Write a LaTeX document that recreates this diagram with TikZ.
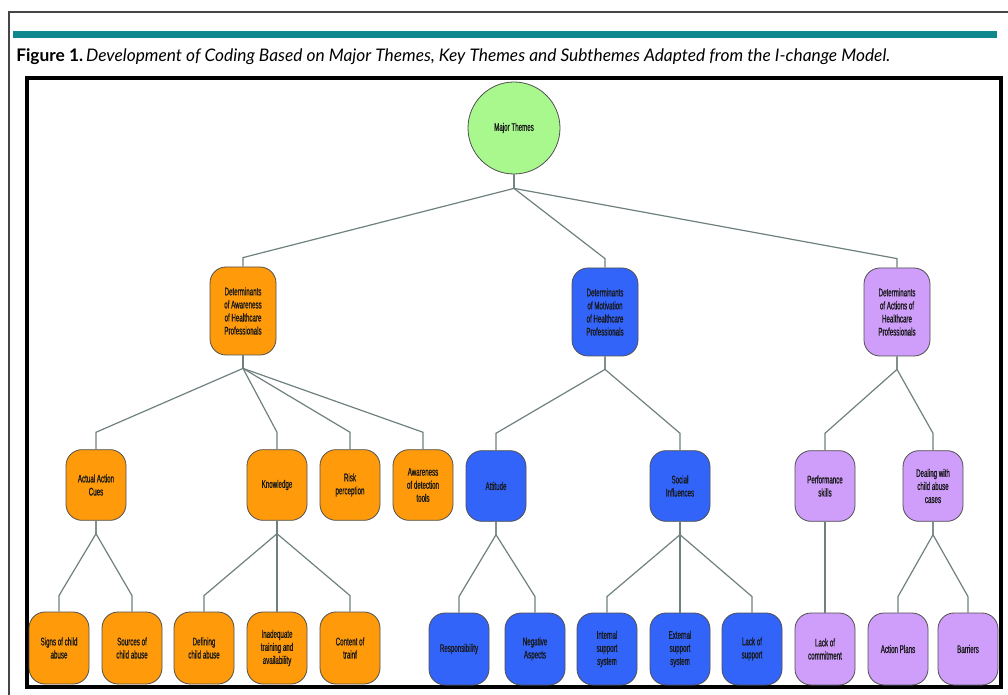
\documentclass[tikz,border=0pt]{standalone}
\usepackage{fontspec}
\setmainfont{Liberation Sans}
\newfontfamily\condfont[FakeStretch=0.56,FakeBold=0.8]{Liberation Sans}
\newfontfamily\capfont{Lato}
\usetikzlibrary{calc}
\definecolor{orng}{RGB}{255,155,10}
\definecolor{blu}{RGB}{50,100,250}
\definecolor{purp}{RGB}{206,158,250}
\definecolor{grn}{RGB}{168,248,142}
\definecolor{boxline}{RGB}{80,80,80}
\definecolor{connc}{RGB}{112,128,128}
\definecolor{teal}{RGB}{14,136,140}
\definecolor{frameg}{RGB}{70,70,70}
\newcommand\treelink[4]{\draw[conn] (#1.south) -- ++(0,#2) -- ($(#3.north)+(0,-#4)$) -- (#3.north);}
\begin{document}
\begin{tikzpicture}[x=0.75pt,y=-0.75pt,
  box/.style={draw=boxline, line width=0.6pt, rounded corners=12pt, align=center,
    font=\condfont\fontsize{8.3}{9.8}\selectfont, text=black!90, inner sep=1pt},
  lone/.style={box, minimum width=49.5pt, minimum height=66pt},
  ltwo/.style={box, minimum width=45pt, minimum height=53pt},
  lthree/.style={box, minimum width=45pt, minimum height=54pt},
  conn/.style={draw=connc, line width=0.9pt}]
\useasboundingbox (0,0) rectangle (1008,695);
\fill[white] (0,0) rectangle (1008,695);
% page frame
\draw[frameg, line width=1.1pt] (9,695) -- (9,12) -- (1008,12);
\fill[teal] (13,31) rectangle (997,38.5);
\node[anchor=base west, inner sep=0pt, font=\capfont\fontsize{13}{15}\selectfont] (cap) at (16,62)
  {\textbf{Figure 1.}\,\textit{Development of Coding Based on Major Themes, Key Themes and Subthemes Adapted from the I-change Model.}};
\draw[black, line width=3pt] (27,78) rectangle (1001,687);
% root
\node[draw=boxline, line width=0.6pt, circle, fill=grn, minimum size=69pt, inner sep=0pt,
  font=\condfont\fontsize{8.3}{9.8}\selectfont, text=black!90] (root) at (514,128) {Major Themes};
% level 1
\node[lone, fill=orng] (aw) at (243,311) {Determinants\\of Awareness\\of Healthcare\\Professionals};
\node[lone, fill=blu] (mo) at (605,312) {Determinants\\of Motivation\\of Healthcare\\Professionals};
\node[lone, fill=purp] (ac) at (897,312) {Determinants\\of Actions of\\Healthcare\\Professionals};
% level 2
\node[ltwo, fill=orng] (cues) at (96,485) {Actual Action\\Cues};
\node[ltwo, fill=orng] (know) at (277,485) {Knowledge};
\node[ltwo, fill=orng] (risk) at (350,485) {Risk\\perception};
\node[ltwo, fill=orng] (tools) at (423,485) {Awareness\\of detection\\tools};
\node[ltwo, fill=blu] (att) at (496,486) {Attitude};
\node[ltwo, fill=blu] (soc) at (680,486) {Social\\Influences};
\node[ltwo, fill=purp] (perf) at (825,486) {Performance\\skills};
\node[ltwo, fill=purp] (deal) at (933,486) {Dealing with\\child abuse\\cases};
% level 3
\node[lthree, fill=orng] (signs) at (59,648) {Signs of child\\abuse};
\node[lthree, fill=orng] (sources) at (132,648) {Sources of\\child abuse};
\node[lthree, fill=orng] (defin) at (204,648) {Defining\\child abuse};
\node[lthree, fill=orng] (inad) at (277,648) {Inadequate\\training and\\availability};
\node[lthree, fill=orng] (content) at (350,648) {Content of\\trainf};
\node[lthree, fill=blu] (resp) at (459,649) {Responsibility};
\node[lthree, fill=blu] (neg) at (535,649) {Negative\\Aspects};
\node[lthree, fill=blu] (inter) at (607,649) {Internal\\support\\system};
\node[lthree, fill=blu] (exter) at (680,649) {External\\support\\system};
\node[lthree, fill=blu] (lack) at (752,649) {Lack of\\support};
\node[lthree, fill=purp] (commit) at (825,649) {Lack of\\commitment};
\node[lthree, fill=purp] (plans) at (898,649) {Action Plans};
\node[lthree, fill=purp] (barr) at (968,649) {Barriers};
% connectors
\treelink{root}{14}{aw}{9}
\treelink{root}{14}{mo}{9}
\treelink{root}{14}{ac}{9}
\treelink{aw}{13}{cues}{17}
\treelink{aw}{13}{know}{17}
\treelink{aw}{13}{risk}{17}
\treelink{aw}{13}{tools}{17}
\treelink{mo}{13}{att}{17}
\treelink{mo}{13}{soc}{17}
\treelink{ac}{13}{perf}{17}
\treelink{ac}{13}{deal}{17}
\treelink{cues}{13}{signs}{16}
\treelink{cues}{13}{sources}{16}
\treelink{know}{13}{defin}{16}
\treelink{know}{13}{inad}{16}
\treelink{know}{13}{content}{16}
\treelink{att}{13}{resp}{16}
\treelink{att}{13}{neg}{16}
\treelink{soc}{13}{inter}{16}
\treelink{soc}{13}{exter}{16}
\treelink{soc}{13}{lack}{16}
\draw[conn] (perf.south) -- (commit.north);
\treelink{deal}{13}{plans}{16}
\treelink{deal}{13}{barr}{16}
\end{tikzpicture}
\end{document}
